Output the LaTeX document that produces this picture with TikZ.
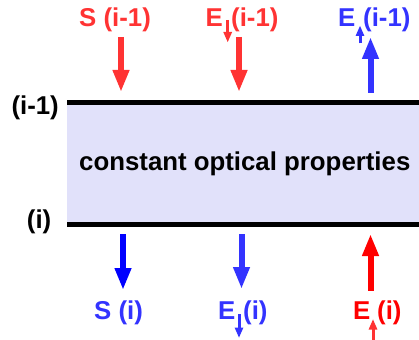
\documentclass[tikz,border=0pt]{standalone}
\usepackage{fontspec}
\setmainfont{Liberation Sans}
\usetikzlibrary{arrows.meta}
\definecolor{redA}{RGB}{255,51,51}
\definecolor{redB}{RGB}{255,0,0}
\definecolor{blueA}{RGB}{51,51,255}
\definecolor{blueB}{RGB}{0,0,255}
\definecolor{layer}{RGB}{225,225,250}
\tikzset{
  lbl/.style={inner sep=0pt, anchor=base west, font=\fontsize{25.8}{30}\selectfont\bfseries},
  bigarrow/.style={line width=6pt, -{Triangle[length=22pt,width=15.5pt]}},
  smallarrow/.style={line width=3pt, -{Triangle[length=10.5pt,width=8pt]}},
  boundary/.style={line width=5pt, black},
}
\begin{document}
\begin{tikzpicture}[x=1pt,y=-1pt]
\useasboundingbox (0,0) rectangle (419,339);
% layer
\fill[layer] (67,102.5) rectangle (419,224.5);
\coordinate (tl) at (67,102.5);
\coordinate (tr) at (419,102.5);
\coordinate (bl) at (67,224.5);
\coordinate (br) at (419,224.5);
\draw[boundary] (tl) -- (tr);
\draw[boundary] (bl) -- (br);
\node[lbl, anchor=base east] (ltop) at (59,114.5) {(i-1)};
\node[lbl, anchor=base east] (lbot) at (51.5,228) {(i)};
\node[lbl] (mid) at (79,170) {constant optical properties};
% top labels
\node[lbl, text=redA] (s1) at (79,26.7) {S (i-1)};
\node[lbl, text=redA] (e1) at (205.5,26.7) {E};
\node[lbl, text=redA] (e1b) at (231,26.7) {(i-1)};
\node[lbl, text=blueA] (e2) at (338,26.7) {E};
\node[lbl, text=blueA] (e2b) at (363,26.7) {(i-1)};
% bottom labels
\node[lbl, text=blueA] (s3) at (94,319.5) {S (i)};
\node[lbl, text=blueA] (e3) at (218,319.5) {E};
\node[lbl, text=blueA] (e3b) at (243,319.5) {(i)};
\node[lbl, text=redB] (e4) at (353,319.5) {E};
\node[lbl, text=redB] (e4b) at (377,319.5) {(i)};
% small arrows in labels
\coordinate (a1s) at (227.7,20); \coordinate (a1e) at (227.7,42.5);
\draw[smallarrow, redA] (a1s) -- (a1e);
\coordinate (a2s) at (360,43.5); \coordinate (a2e) at (360,25.5);
\draw[smallarrow, blueA] (a2s) -- (a2e);
\coordinate (a3s) at (239,314); \coordinate (a3e) at (239,338);
\draw[smallarrow, blueA] (a3s) -- (a3e);
\coordinate (a4s) at (373,342); \coordinate (a4e) at (373,319);
\draw[smallarrow, redA] (a4s) -- (a4e);
% main arrows top
\coordinate (p1s) at (121,37); \coordinate (p1e) at (121,92);
\draw[bigarrow, redA] (p1s) -- (p1e);
\coordinate (p2s) at (239,37); \coordinate (p2e) at (239,92);
\draw[bigarrow, redA] (p2s) -- (p2e);
\coordinate (p3s) at (370.5,93); \coordinate (p3e) at (370.5,37);
\draw[bigarrow, blueA] (p3s) -- (p3e);
% main arrows bottom
\coordinate (q1s) at (123,234); \coordinate (q1e) at (123,290);
\draw[bigarrow, blueB] (q1s) -- (q1e);
\coordinate (q2s) at (241.5,234); \coordinate (q2e) at (241.5,289);
\draw[bigarrow, blueA] (q2s) -- (q2e);
\coordinate (q3s) at (370.5,290.5); \coordinate (q3e) at (370.5,234);
\draw[bigarrow, redB] (q3s) -- (q3e);
\end{tikzpicture}
\end{document}
